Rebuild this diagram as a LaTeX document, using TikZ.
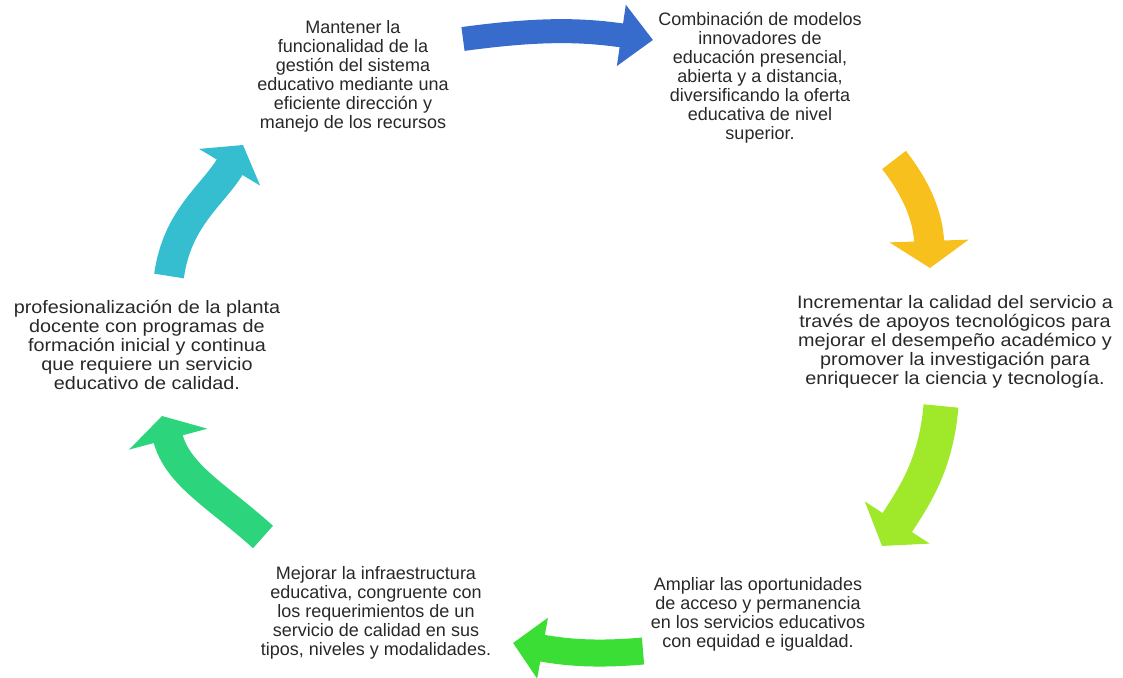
\documentclass[tikz,border=0pt]{standalone}
\usepackage{fontspec}
\setmainfont{Liberation Sans}
\newfontfamily\ancha[FakeStretch=1.1]{Liberation Sans}
\usetikzlibrary{arrows.meta}
\definecolor{azul}{RGB}{56,108,204}
\definecolor{amarillo}{RGB}{247,192,28}
\definecolor{lima}{RGB}{160,232,42}
\definecolor{verde}{RGB}{58,222,52}
\definecolor{verdeagua}{RGB}{44,212,124}
\definecolor{turquesa}{RGB}{52,190,208}
\definecolor{gristexto}{RGB}{40,40,40}
\tikzset{
  texto/.style={anchor=north, align=center, inner sep=0pt, text=gristexto,
    font=\fontsize{18}{19}\selectfont},
  textoancho/.style={texto, font=\ancha\fontsize{18}{19}\selectfont},
  flecha/.style n args={4}{draw=#1, line width=#2pt,
    -{Triangle[width=#3pt,length=#4pt]}}
}

\begin{document}
\begin{tikzpicture}[x=1pt,y=1pt]
\useasboundingbox (0,0) rectangle (1123,677);

\node[texto] (mantener) at (353,657) {Mantener la\\funcionalidad de la\\gestión del sistema\\educativo mediante una\\eficiente dirección y\\manejo de los recursos};
\node[texto] (combinacion) at (760,665) {Combinación de modelos\\innovadores de\\educación presencial,\\abierta y a distancia,\\diversificando la oferta\\educativa de nivel\\superior.};
\node[textoancho] (incrementar) at (955,382) {Incrementar la calidad del servicio a\\través de apoyos tecnológicos para\\mejorar el desempeño académico y\\promover la investigación para\\enriquecer la ciencia y tecnología.};
\node[texto] (ampliar) at (758,100) {Ampliar las oportunidades\\de acceso y permanencia\\en los servicios educativos\\con equidad e igualdad.};
\node[texto] (mejorar) at (376,111) {Mejorar la infraestructura\\educativa, congruente con\\los requerimientos de un\\servicio de calidad en sus\\tipos, niveles y modalidades.};
\node[textoancho] (profesional) at (147,377) {profesionalización de la planta\\docente con programas de\\formación inicial y continua\\que requiere un servicio\\educativo de calidad.};

\coordinate (azul-a) at (463,638);
\coordinate (azul-b) at (653,637);
\coordinate (amarillo-a) at (894,517);
\coordinate (amarillo-b) at (930,409);
\coordinate (lima-a) at (941,271);
\coordinate (lima-b) at (882,131);
\coordinate (verde-a) at (643,26);
\coordinate (verde-b) at (513,34);
\coordinate (verdeagua-a) at (263,140);
\coordinate (verdeagua-b) at (162,261);
\coordinate (turquesa-a) at (169,401);
\coordinate (turquesa-b) at (243,532);

\draw[flecha={azul}{24}{60}{32}] (azul-a) to[bend left=8] (azul-b);
\draw[flecha={amarillo}{30}{78}{27}] (amarillo-a) to[out=-52,in=92] (amarillo-b);
\draw[flecha={lima}{35}{76}{28}] (lima-a) to[out=-95,in=57] (lima-b);
\draw[flecha={verde}{27}{60}{30}] (verde-a) to[out=185,in=-10] (verde-b);
\draw[flecha={verdeagua}{30}{80}{24}] (verdeagua-a) to[out=138,in=-75] (verdeagua-b);
\draw[flecha={turquesa}{30}{70}{26}] (turquesa-a) to[out=82,in=-121] (turquesa-b);
\end{tikzpicture}
\end{document}
